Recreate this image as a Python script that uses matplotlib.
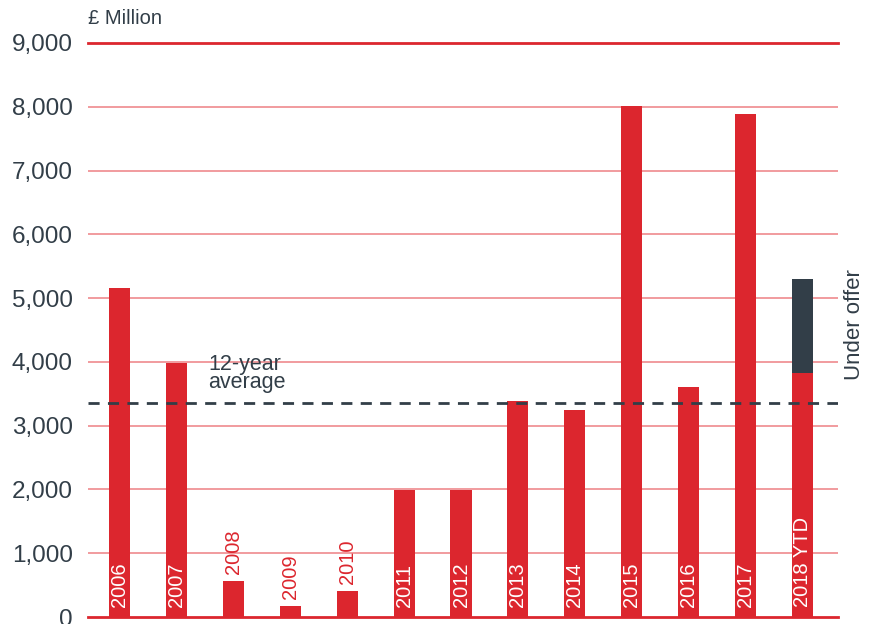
import matplotlib.pyplot as plt

# data
years = ["2006", "2007", "2008", "2009", "2010", "2011", "2012",
         "2013", "2014", "2015", "2016", "2017", "2018 YTD"]
completed = [5160, 3990, 570, 175, 410, 1990, 1995,
             3390, 3240, 8010, 3600, 7880, 3820]
under_offer = [0, 0, 0, 0, 0, 0, 0, 0, 0, 0, 0, 0, 1480]
average = 3360
yticks = [0, 1000, 2000, 3000, 4000, 5000, 6000, 7000, 8000, 9000]

RED = "#dc262e"
DARK = "#323e48"
GRID = "#ef8a8e"

plt.rcParams["font.family"] = ["Liberation Sans", "DejaVu Sans"]

fig = plt.figure(figsize=(8.76, 6.24), dpi=100)
ax = fig.add_axes([88 / 876, 1 - 617 / 624, 750 / 876, 574 / 624])

x = list(range(len(years)))
ax.bar(x, completed, width=0.37, color=RED, zorder=3)
ax.bar(x, under_offer, width=0.37, bottom=completed, color=DARK, zorder=3)

ax.set_xlim(-0.56, len(years) - 1 + 0.63)
ax.set_ylim(0, 9000)

# grid lines
for v in yticks:
    if v in (0, 9000):
        ax.axhline(v, color=RED, lw=2, zorder=2, clip_on=False)
    else:
        ax.axhline(v, color=GRID, lw=1.2, zorder=1)

ax.set_yticks(yticks)
ax.set_yticklabels([f"{v:,}" for v in yticks], fontsize=17.5, color=DARK)
ax.tick_params(axis="y", length=0, pad=11)
ax.set_xticks([])
for s in ax.spines.values():
    s.set_visible(False)

# year labels
for i, (lab, v) in enumerate(zip(years, completed)):
    if v > 900:
        ax.text(i, 150, lab, rotation=90, ha="center", va="bottom",
                color="white", fontsize=14.5, zorder=4)
    else:
        ax.text(i, v + 110, lab, rotation=90, ha="center", va="bottom",
                color=RED, fontsize=14.5, zorder=4)

# average line
ax.axhline(average, color=DARK, lw=2, ls=(0, (4, 3)), zorder=4)
ax.text(1.55, average + 150, "12-year\naverage", fontsize=15.5, color=DARK,
        va="bottom", ha="left", linespacing=0.8, zorder=5)

fig.text(88 / 876, 1 - 18 / 624, "£ Million", fontsize=14.5, color=DARK,
         ha="left", va="center")
fig.text(855 / 876, 1 - 325 / 624, "Under offer", fontsize=16, color=DARK,
         rotation=90, ha="center", va="center")

fig.savefig("out.png", dpi=100)
